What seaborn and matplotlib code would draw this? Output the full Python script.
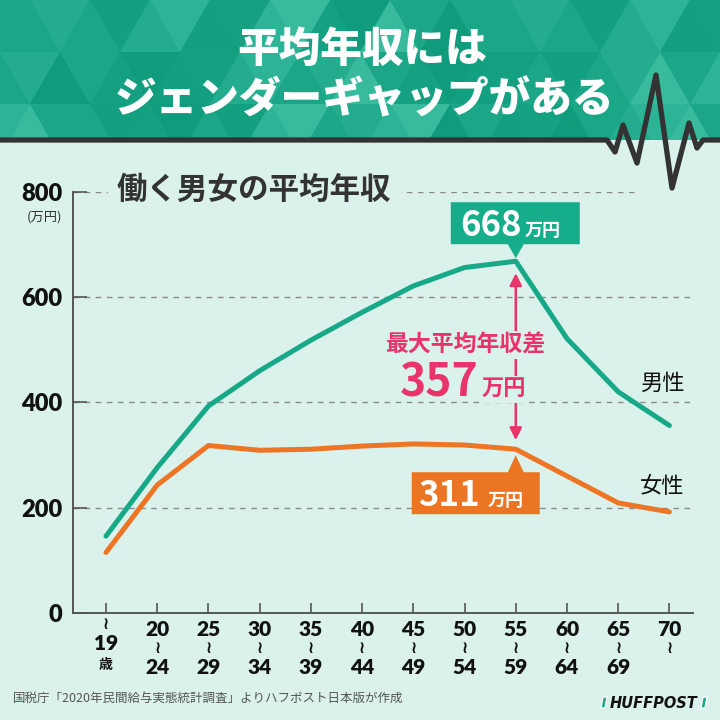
import matplotlib
matplotlib.use('Agg')
import matplotlib.pyplot as plt
import matplotlib.patches as mpatches
import matplotlib.transforms as mtransforms
import pandas as pd
import seaborn as sns

# 年齢階層と平均年収（万円）
ages = ['~19', '20-24', '25-29', '30-34', '35-39', '40-44',
        '45-49', '50-54', '55-59', '60-64', '65-69', '70~']
men = [146, 276, 393, 460, 518, 571, 621, 656, 668, 521, 420, 356]
women = [115, 243, 318, 309, 311, 317, 321, 319, 311, 260, 209, 192]
# x軸ラベル（3段）
tick_rows = [['~', '19', '歳'], ['20', '~', '24'], ['25', '~', '29'], ['30', '~', '34'],
             ['35', '~', '39'], ['40', '~', '44'], ['45', '~', '49'], ['50', '~', '54'],
             ['55', '~', '59'], ['60', '~', '64'], ['65', '~', '69'], ['70', '~', '']]
yticks = [0, 200, 400, 600, 800]

BG = '#daf2eb'
TEAL = '#17a987'
ORANGE = '#ee7524'
PINK = '#e8336b'

df = pd.DataFrame({
    'age': ages * 2,
    'income': men + women,
    'sex': ['男性'] * len(ages) + ['女性'] * len(ages),
})

sns.set_theme(style='white')
plt.rcParams['font.family'] = ['Noto Sans CJK JP', 'DejaVu Sans']

fig = plt.figure(figsize=(7.2, 7.2), dpi=100)
fig.patch.set_facecolor(BG)

# 装飾用（ピクセル座標）
dax = fig.add_axes([0, 0, 1, 1], zorder=-1)
dax.set_xlim(0, 720)
dax.set_ylim(720, 0)
dax.axis('off')

# ヘッダー：三角形パターン
header = mpatches.Rectangle((0, 0), 720, 140, facecolor='#1aa687', edgecolor='none')
dax.add_patch(header)
shades = ['#1aa687', '#14a081', '#23ad8e', '#0f9b7c', '#2db496', '#1aa687', '#38ba9d', '#12a080']
w, h = 60, 52
for r in range(3):
    off = (r % 2) * w / 2
    y0, y1 = r * h, (r + 1) * h
    for k in range(-2, 14):
        up = [(k * w + off, y1), ((k + 1) * w + off, y1), ((k + 0.5) * w + off, y0)]
        dn = [((k + 0.5) * w + off, y0), ((k + 1.5) * w + off, y0), ((k + 1) * w + off, y1)]
        for j, tri in enumerate([up, dn]):
            c = shades[(k * 5 + r * 3 + j * 2 + (k * r) % 3) % len(shades)]
            p = mpatches.Polygon(tri, closed=True, facecolor=c, edgecolor='none')
            dax.add_patch(p)
            p.set_clip_path(header)

# 心電図ライン
hb = [(0, 140), (607, 140), (615, 152), (623, 125), (637, 163), (656, 75),
      (672, 188), (689, 123), (697, 148), (703, 140), (720, 140)]
dax.plot([p[0] for p in hb], [p[1] for p in hb], color='#333333', lw=3.8,
         solid_joinstyle='round', solid_capstyle='butt')

dax.text(362, 50, '平均年収には', color='white', fontsize=30, fontweight='black',
         ha='center', va='center')
dax.text(364, 100, 'ジェンダーギャップがある', color='white', fontsize=30, fontweight='black',
         ha='center', va='center')

# フッター
dax.text(13, 698, '国税庁「2020年民間給与実態統計調査」よりハフポスト日本版が作成',
         fontsize=9, color='#555555', va='center')
dax.add_patch(mpatches.Polygon([(603, 697), (607, 697), (605, 708), (601, 708)], facecolor=TEAL))
dax.add_patch(mpatches.Polygon([(703, 697), (707, 697), (705, 708), (701, 708)], facecolor=TEAL))
dax.text(654, 703, 'HUFFPOST', fontfamily='DejaVu Sans', fontweight='bold', fontstyle='italic',
         fontsize=10.5, color='#111111', ha='center', va='center')

# メインチャート
ax = fig.add_axes([72.7 / 720, 1 - 613 / 720, (693 - 72.7) / 720, (613 - 191.7) / 720])
ax.set_facecolor('none')
sns.lineplot(data=df, x='age', y='income', hue='sex', palette={'男性': TEAL, '女性': ORANGE},
             linewidth=3.6, legend=False, sort=False, ax=ax)
for ln in ax.lines:
    ln.set_solid_capstyle('round')
    ln.set_solid_joinstyle('round')
    ln.set_clip_on(False)

ax.set_xlim(-0.65, 11.46)
ax.set_ylim(0, 800)
ax.set_xlabel('')
ax.set_ylabel('')

for v in yticks[1:-1]:
    ax.axhline(v, color='#8a8a8a', lw=1, ls=(0, (4, 4)), zorder=0)
ax.axhline(800, xmax=(638 - 72.7) / (693 - 72.7), color='#8a8a8a', lw=1, ls=(0, (4, 4)), zorder=0)

for s in ['top', 'right']:
    ax.spines[s].set_visible(False)
for s in ['left', 'bottom']:
    ax.spines[s].set_color('#555555')
    ax.spines[s].set_linewidth(1.4)

ax.set_yticks(yticks)
ax.set_yticklabels([str(v) for v in yticks], fontfamily='Lato', fontweight='heavy',
                   fontsize=17, color='#111111')
ax.tick_params(axis='y', direction='in', length=10, width=1.2, color='#555555', pad=7.5, left=True)
ax.set_xticks(range(len(ages)))
ax.set_xticklabels([])
ax.tick_params(axis='x', direction='in', length=7, width=1.2, color='#555555', bottom=True)

# x軸ラベル（3段）
row_off = [-16, -35, -55]
for i, rows in enumerate(tick_rows):
    for j, s in enumerate(rows):
        if not s:
            continue
        dy = row_off[j] + (5 if i == 0 else 0)
        if s == '~':
            ax.annotate('≀', xy=(i, 0), xycoords=('data', 'axes fraction'), xytext=(0, dy),
                        textcoords='offset pixels', ha='center', va='center',
                        fontfamily='DejaVu Sans', fontweight='bold', fontsize=12, color='#111111')
        elif s == '歳':
            ax.annotate(s, xy=(i, 0), xycoords=('data', 'axes fraction'), xytext=(0, dy - 2),
                        textcoords='offset pixels', ha='center', va='center',
                        fontweight='bold', fontsize=10, color='#111111')
        else:
            ax.annotate(s, xy=(i, 0), xycoords=('data', 'axes fraction'), xytext=(0, dy),
                        textcoords='offset pixels', ha='center', va='center',
                        fontfamily='Lato', fontweight='heavy', fontsize=15, color='#111111')

fig.text(62 / 720, 1 - 217 / 720, '(万円)', fontsize=9.5, color='#333333', ha='right', va='center')
fig.text(117 / 720, 1 - 190 / 720, '働く男女の平均年収', fontsize=22, fontweight='bold',
         color='#333333', va='center', ha='left',
         bbox=dict(boxstyle='square,pad=0.3', facecolor=BG, edgecolor='none'))

# 吹き出し
peak = 8


def anchor(x, y):
    px, py = ax.transData.transform((x, y))
    return mtransforms.Affine2D().translate(px, py)


box_m = mpatches.Polygon([(-65, 17), (-8, 17), (0, 3), (8, 17), (64, 17), (64, 59), (-65, 59)],
                         closed=True, facecolor='#15ad8a', edgecolor='none',
                         transform=anchor(peak, men[peak]), clip_on=False, zorder=5)
ax.add_patch(box_m)
box_w = mpatches.Polygon([(-104, -23), (-8, -23), (0, -6), (8, -23), (24, -23), (24, -65), (-104, -65)],
                         closed=True, facecolor='#ec7523', edgecolor='none',
                         transform=anchor(peak, women[peak]), clip_on=False, zorder=5)
ax.add_patch(box_w)

ax.annotate(str(men[peak]), xy=(peak, men[peak]), xytext=(6, 25), textcoords='offset pixels',
            ha='right', va='baseline', color='white', fontsize=25, fontweight='bold', zorder=6)
ax.annotate('万円', xy=(peak, men[peak]), xytext=(9, 25), textcoords='offset pixels',
            ha='left', va='baseline', color='white', fontsize=13, fontweight='bold', zorder=6)
ax.annotate(str(women[peak]), xy=(peak, women[peak]), xytext=(-36, -57), textcoords='offset pixels',
            ha='right', va='baseline', color='white', fontsize=25, fontweight='bold', zorder=6)
ax.annotate('万円', xy=(peak, women[peak]), xytext=(-28, -57), textcoords='offset pixels',
            ha='left', va='baseline', color='white', fontsize=13, fontweight='bold', zorder=6)

# 差の矢印
ax.annotate('', xy=(peak, men[peak]), xytext=(peak, women[peak]),
            arrowprops=dict(arrowstyle='<|-|>,head_length=0.6,head_width=0.3', color=PINK,
                            lw=1.8, shrinkA=6.5, shrinkB=8.6), zorder=4)
gap = men[peak] - women[peak]
pad_bg = dict(boxstyle='square,pad=0.1', facecolor=BG, edgecolor='none')
ax.annotate('最大平均年収差', xy=(peak, men[peak]), xytext=(-51, -84), textcoords='offset pixels',
            ha='center', va='center', color=PINK, fontsize=16.5, fontweight='bold',
            bbox=pad_bg, zorder=6)
ax.annotate(str(gap), xy=(peak, men[peak]), xytext=(-37, -135), textcoords='offset pixels',
            ha='right', va='baseline', color=PINK, fontsize=32, fontweight='bold', zorder=6)
ax.annotate('万円', xy=(peak, men[peak]), xytext=(-34, -135), textcoords='offset pixels',
            ha='left', va='baseline', color=PINK, fontsize=16, fontweight='bold',
            bbox=pad_bg, zorder=6)

# 系列ラベル
ax.annotate('男性', xy=(11, men[11]), xytext=(-7, 42), textcoords='offset pixels',
            ha='center', va='center', fontsize=16, color='#111111')
ax.annotate('女性', xy=(11, women[11]), xytext=(-7, 25), textcoords='offset pixels',
            ha='center', va='center', fontsize=16, color='#111111')

fig.savefig('out.png', dpi=100, facecolor=fig.get_facecolor())
